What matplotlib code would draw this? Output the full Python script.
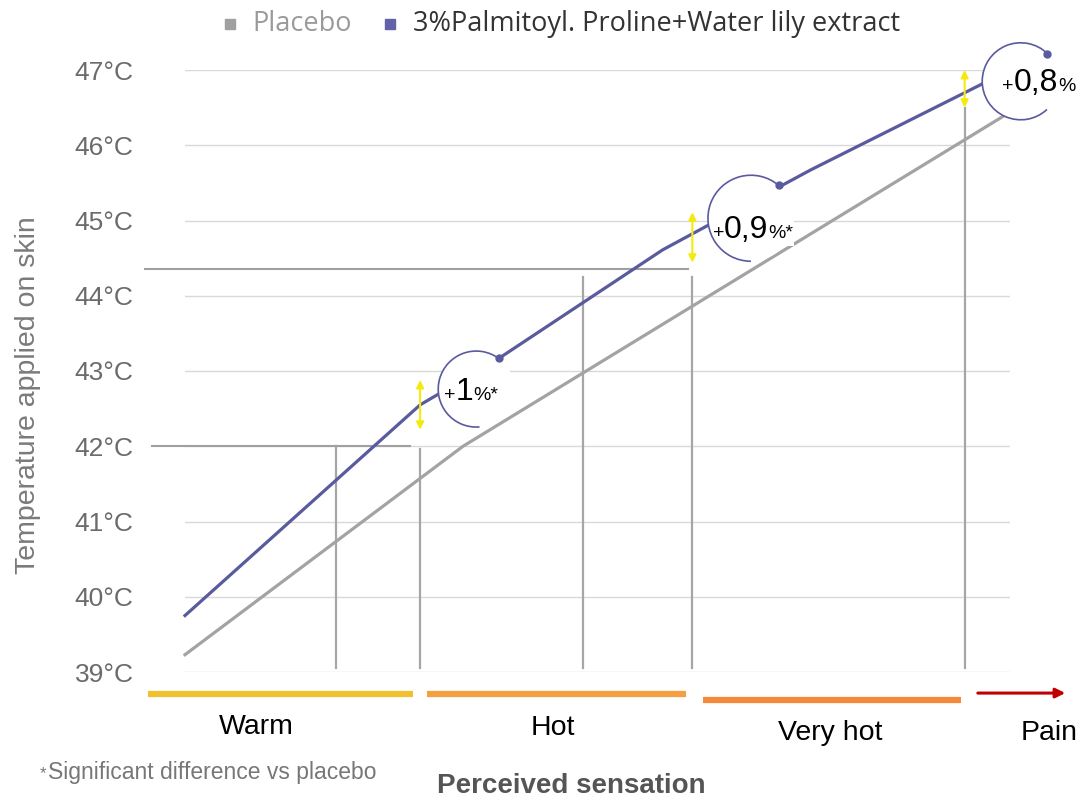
import matplotlib
matplotlib.use('Agg')
import numpy as np
import matplotlib.pyplot as plt
from matplotlib.lines import Line2D
from matplotlib.patches import Circle, Arc
from matplotlib.transforms import ScaledTranslation
from matplotlib.offsetbox import TextArea, HPacker, AnnotationBbox

plt.rcParams['font.family'] = ['Liberation Sans', 'DejaVu Sans']

# sensation position (0-10) vs temperature applied on skin
placebo_x = [0.0, 3.37, 9.94]
placebo_t = [39.23, 42.0, 46.4]
active_x = [0.0, 2.85, 3.78, 5.79, 7.58, 10.0]
active_t = [39.75, 42.55, 43.15, 44.61, 45.67, 47.0]

temps = list(range(39, 48))
temp_labels = [f'{t}°C' for t in temps]

# threshold guides
vline_x = [1.83, 2.85, 4.82, 6.15, 9.45]
vline_top = [42.0, 41.97, 44.25, 44.25, 46.5]
hline_t = [42.0, 44.35]
hline_x1 = [-0.40, -0.48]
hline_x2 = [2.73, 6.10]

# differences (yellow arrows + labels)
diff_x = [2.85, 6.15, 9.45]
diff_lo = [42.22, 44.44, 46.5]
diff_hi = [42.88, 45.11, 47.0]
diff_big = ['1', '0,9', '0,8']
diff_small = ['%*', '%*', '%']
circ_x = [3.53, 6.86, 10.13]
circ_t = [42.76, 45.03, 46.85]
circ_r = [0.38, 0.43, 0.385]
circ_a1 = [54, 50, 46]
circ_a2 = [275, 270, 313]
label_dx = [-3.6, 1.5, 13]
label_dy = [-2, -8.5, -1]

# sensation bands
sensations = ['Warm', 'Hot', 'Very hot', 'Pain']
band_start = [-0.45, 2.93, 6.28]
band_end = [2.76, 6.07, 9.41]
band_t = [38.71, 38.71, 38.63]
band_colors = ['#f0c030', '#f4a040', '#f58a3a']
sens_label_x = [0.87, 4.46, 7.82, 10.48]
sens_label_t = [38.27, 38.25, 38.19, 38.19]

gray = '#a3a3a3'
purple = '#5a5a9e'

fig = plt.figure(figsize=(10.8, 8), dpi=100)
ax = fig.add_axes([185/1080, 1-672/800, 825/1080, 602/800])
ax.set_xlim(0, 10)
ax.set_ylim(39, 47)
ax.set_yticks(temps)
ax.set_yticklabels(temp_labels, fontsize=19, color='#6b6b6b')
ax.set_xticks([])
ax.tick_params(axis='y', length=0, pad=37)
ax.yaxis.grid(True, color='#d9d9d9', lw=1)
ax.set_axisbelow(True)
for s in ax.spines.values():
    s.set_visible(False)

ax.plot(placebo_x, placebo_t, color=gray, lw=2.3, zorder=3, clip_on=False)
ax.plot(active_x, active_t, color=purple, lw=2.3, zorder=3, clip_on=False)

for x, top in zip(vline_x, vline_top):
    ax.plot([x, x], [39.05, top], color='#a6a6a6', lw=1.6, zorder=2)
for t, x1, x2 in zip(hline_t, hline_x1, hline_x2):
    ax.plot([x1, x2], [t, t], color='#a0a0a0', lw=1.5, zorder=2, clip_on=False)

for x, lo, hi in zip(diff_x, diff_lo, diff_hi):
    ax.annotate('', xy=(x, lo), xytext=(x, hi),
                arrowprops=dict(arrowstyle='<|-|>', color='#f5ea10', lw=1.5,
                                mutation_scale=11, shrinkA=0, shrinkB=0),
                zorder=7)

for i in range(3):
    tr = fig.dpi_scale_trans + ScaledTranslation(circ_x[i], circ_t[i], ax.transData)
    r = circ_r[i]
    ax.add_patch(Circle((0, 0), r, transform=tr, fc='white', ec='none', zorder=4, clip_on=False))
    ax.add_patch(Arc((0, 0), 2*r, 2*r, theta1=circ_a1[i], theta2=circ_a2[i],
                     transform=tr, color=purple, lw=1.2, zorder=6, clip_on=False))
    a = np.deg2rad(circ_a1[i])
    ax.plot([r*np.cos(a)], [r*np.sin(a)], 'o', ms=5, color=purple, transform=tr,
            zorder=6, clip_on=False)
    box = HPacker(children=[TextArea('+', textprops=dict(fontsize=14, color='black')),
                            TextArea(diff_big[i], textprops=dict(fontsize=23, color='black')),
                            TextArea(diff_small[i], textprops=dict(fontsize=14, color='black'))],
                  align='baseline', pad=0, sep=0)
    ab = AnnotationBbox(box, (circ_x[i], circ_t[i]), xybox=(label_dx[i], label_dy[i]),
                        boxcoords='offset points', frameon=True,
                        bboxprops=dict(fc='white', ec='none'), pad=0.05,
                        zorder=5, annotation_clip=False)
    ax.add_artist(ab)

for x1, x2, t, c in zip(band_start, band_end, band_t, band_colors):
    ax.plot([x1, x2], [t, t], color=c, lw=4.5, solid_capstyle='butt', clip_on=False)
ax.annotate('', xy=(10.67, 38.72), xytext=(9.61, 38.72),
            arrowprops=dict(arrowstyle='-|>', color='#c00000', lw=2.2,
                            mutation_scale=14, shrinkA=0, shrinkB=0),
            annotation_clip=False)
for name, x, t in zip(sensations, sens_label_x, sens_label_t):
    ax.text(x, t, name, fontsize=20.5, ha='center', va='center', color='black', clip_on=False)

# legend, laid out by hand
leg_y = 1 - 24/800
fig.add_artist(Line2D([230/1080], [leg_y], ls='', marker='s', ms=7.5, color='#a0a0a0',
                      transform=fig.transFigure))
fig.add_artist(Line2D([390/1080], [leg_y], ls='', marker='s', ms=7.5, color='#6262a8',
                      transform=fig.transFigure))
fig.text(252/1080, leg_y, 'Placebo', family='Open Sans', fontsize=19.5,
         color='#9a9a9a', ha='left', va='center')
fig.text(413/1080, leg_y, '3%Palmitoyl. Proline+Water lily extract', family='Open Sans',
         fontsize=19.5, color='#333333', ha='left', va='center')

fig.text(28/1080, 1-395/800, 'Temperature applied on skin', rotation=90,
         ha='center', va='center', fontsize=20.5, color='#7a7a7a')
fig.text(40/1080, 1-774/800, '*', fontsize=12, color='#777777', ha='left', va='center')
fig.text(48/1080, 1-773/800, 'Significant difference vs placebo', fontsize=16.5,
         color='#777777', ha='left', va='center')
fig.text(571/1080, 1-786/800, 'Perceived sensation', fontsize=20, fontweight='bold',
         color='#555555', ha='center', va='center')

fig.savefig('out.png', dpi=100)
